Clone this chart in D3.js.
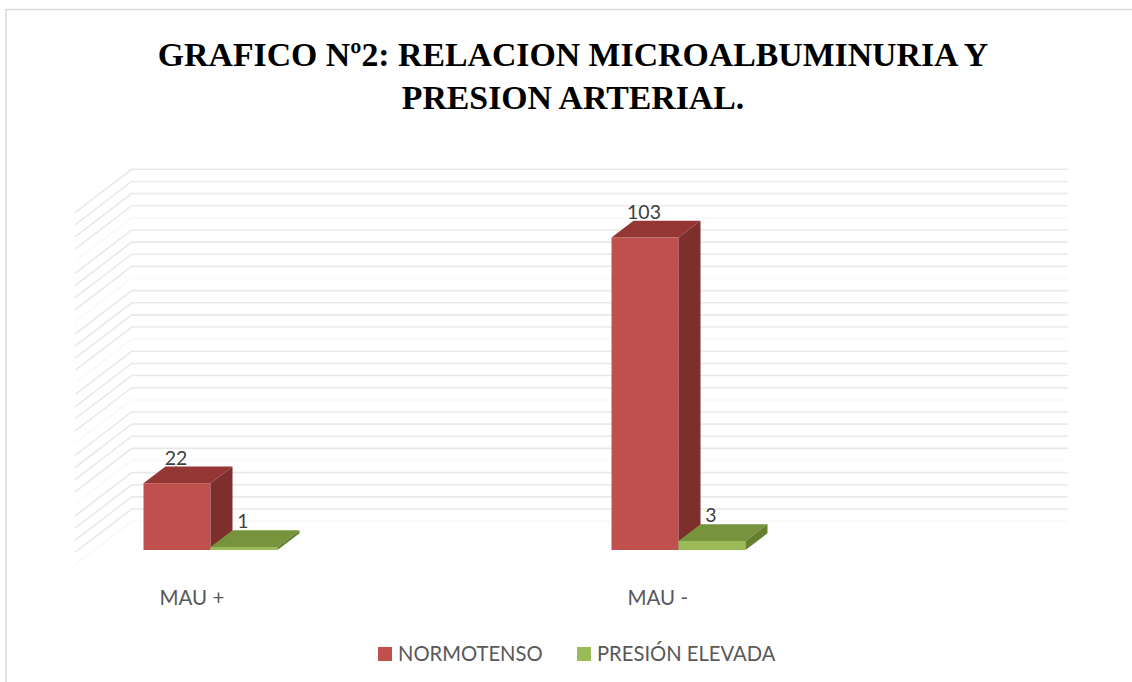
<!DOCTYPE html>
<html>
<head>
<meta charset="utf-8">
<script src="https://cdn.jsdelivr.net/npm/d3@7"></script>
<style>
  body { margin: 0; background: #fff; }
  svg { display: block; }
</style>
</head>
<body>
<svg id="chart" width="1132" height="682"></svg>
<script>
'use strict';

// data
var categories = ['MAU +', 'MAU -'];
var seriesNames = ['NORMOTENSO', 'PRESIÓN ELEVADA'];
var normotenso = [22, 103];
var presionElevada = [1, 3];
var gridTicks = d3.range(4, 121, 4);
var titleLines = ['GRAFICO Nº2: RELACION MICROALBUMINURIA Y', 'PRESION ARTERIAL.'];

var colors = {
  front: ['#c0504d', '#9bbb59'],
  top: ['#933634', '#77933c'],
  side: ['#7c2f2d', '#66802f']
};

var svg = d3.select('#chart');
var W = 1132, H = 682;

// frame (only top and left edges fall inside the picture)
svg.append('rect')
  .attr('x', 6).attr('y', 9.5).attr('width', W).attr('height', H)
  .attr('fill', '#fff').attr('stroke', '#d9d9d9').attr('stroke-width', 1.5);

// title
svg.selectAll('text.title').data(titleLines).enter().append('text')
  .attr('class', 'title')
  .attr('x', 573)
  .attr('y', function (d, i) { return 66 + i * 43; })
  .attr('text-anchor', 'middle')
  .attr('font-family', '"Liberation Serif", serif')
  .attr('font-weight', 'bold')
  .attr('font-size', 33.8)
  .attr('fill', '#000')
  .text(function (d) { return d; });

// 3d geometry (oblique projection)
var backLeft = 131.7, backRight = 1067.7;
var bdx = 22, bdy = 16.7;        // bar depth
var wdx = 56.7, wdy = 43.4;      // side wall depth

var y = d3.scaleLinear().domain([0, 120]).range([533.3, 169.3]);
var x = d3.scaleBand().domain(categories).range([backLeft, backRight]);
var barW = 67, groupOffset = 33.8;
var x1 = d3.scaleBand().domain(d3.range(seriesNames.length))
  .range([0, barW * seriesNames.length]);

// gridlines on back and side walls
var grid = svg.append('g').attr('fill', 'none').attr('stroke', '#e9e9e9').attr('stroke-width', 1.6);
grid.selectAll('path').data(gridTicks).enter().append('path')
  .attr('d', function (v) {
    var yy = y(v);
    return 'M' + (backLeft - wdx) + ',' + (yy + wdy) + 'L' + backLeft + ',' + yy + 'L' + backRight + ',' + yy;
  })
  .attr('stroke-opacity', function (v) { return (v - 4) % 20 === 0 ? 0.25 : 1; });

// bars
var rows = categories.map(function (c, i) {
  return { cat: c, values: [normotenso[i], presionElevada[i]] };
});

var bars = [];
rows.forEach(function (r) {
  r.values.forEach(function (v, s) {
    bars.push({ cat: r.cat, s: s, v: v });
  });
});

var barG = svg.append('g');
bars.forEach(function (b) {
  var xb = x(b.cat) + groupOffset + x1(b.s) - bdx;   // front-left
  var w = x1.bandwidth();
  var yb = y(0) + bdy;
  var yt = y(b.v) + bdy;
  var g = barG.append('g');
  g.append('rect')
    .attr('x', xb).attr('y', yt).attr('width', w).attr('height', yb - yt)
    .attr('fill', colors.front[b.s]);
  g.append('polygon')
    .attr('points', [[xb, yt], [xb + bdx, yt - bdy], [xb + w + bdx, yt - bdy], [xb + w, yt]].join(' '))
    .attr('fill', colors.top[b.s]);
  g.append('polygon')
    .attr('points', [[xb + w, yt], [xb + w + bdx, yt - bdy], [xb + w + bdx, yb - bdy], [xb + w, yb]].join(' '))
    .attr('fill', colors.side[b.s]);
  g.append('text')
    .attr('x', xb + w / 2 - 1)
    .attr('y', yt - bdy - 2)
    .attr('text-anchor', 'middle')
    .attr('font-family', 'Lato, sans-serif')
    .attr('font-size', 19.5)
    .attr('fill', '#404040')
    .text(b.v);
});

// category labels
svg.selectAll('text.cat').data(categories).enter().append('text')
  .attr('class', 'cat')
  .attr('x', function (d) { return x(d) + groupOffset - bdx + 16; })
  .attr('y', 605)
  .attr('font-family', 'Lato, sans-serif')
  .attr('font-size', 20.5)
  .attr('fill', '#595959')
  .text(function (d) { return d; });

// legend
var legendX = [378, 577];
var lg = svg.selectAll('g.leg').data(seriesNames).enter().append('g')
  .attr('class', 'leg')
  .attr('transform', function (d, i) { return 'translate(' + legendX[i] + ',647)'; });
lg.append('rect').attr('width', 14).attr('height', 14)
  .attr('fill', function (d, i) { return colors.front[i]; });
lg.append('text')
  .attr('x', 20).attr('y', 14)
  .attr('font-family', 'Lato, sans-serif')
  .attr('font-size', 20.2)
  .attr('fill', '#595959')
  .text(function (d) { return d; });
</script>
</body>
</html>
